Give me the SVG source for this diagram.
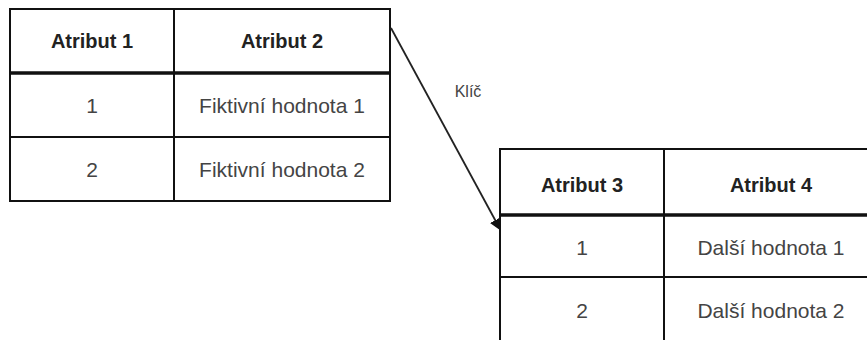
<svg xmlns="http://www.w3.org/2000/svg" width="867" height="340" viewBox="0 0 867 340">
<defs>
<style>
.b{fill:none;stroke:#111;stroke-width:2}
.hb{fill:none;stroke:#111;stroke-width:3.5}
.h{font-family:"Liberation Sans",Arial,sans-serif;font-size:20px;font-weight:bold;fill:#222;text-anchor:middle}
.t{font-family:"Liberation Sans",Arial,sans-serif;font-size:21px;fill:#444;text-anchor:middle}
.k{font-family:"Liberation Sans",Arial,sans-serif;font-size:16px;fill:#444;text-anchor:middle}
</style>
<marker id="ah" markerWidth="12" markerHeight="12" refX="10" refY="6" orient="auto" markerUnits="userSpaceOnUse">
<path d="M0,0 L12,6 L0,12 Z" fill="#111"/>
</marker>
</defs>
<rect width="867" height="340" fill="#fff"/>
<g id="table1">
<rect class="b" x="10" y="9" width="380" height="192"/>
<line class="hb" x1="10" y1="73" x2="390" y2="73"/>
<line class="b" x1="10" y1="137" x2="390" y2="137"/>
<line class="b" x1="174" y1="9" x2="174" y2="201"/>
<text class="h" x="92" y="48">Atribut 1</text>
<text class="h" x="282" y="48">Atribut 2</text>
<text class="t" x="92" y="113">1</text>
<text class="t" x="282" y="113">Fiktivní hodnota 1</text>
<text class="t" x="92" y="177">2</text>
<text class="t" x="282" y="177">Fiktivní hodnota 2</text>
</g>
<g id="table2">
<rect class="b" x="500" y="149" width="378" height="200"/>
<line class="hb" x1="500" y1="215" x2="878" y2="215"/>
<line class="b" x1="500" y1="277" x2="878" y2="277"/>
<line class="b" x1="664" y1="149" x2="664" y2="349"/>
<text class="h" x="582" y="192">Atribut 3</text>
<text class="h" x="771" y="192">Atribut 4</text>
<text class="t" x="582" y="255">1</text>
<text class="t" x="771" y="255">Další hodnota 1</text>
<text class="t" x="582" y="318">2</text>
<text class="t" x="771" y="318">Další hodnota 2</text>
</g>
<g id="connectors">
<line x1="391" y1="28" x2="500" y2="229" stroke="#222" stroke-width="1.8" marker-end="url(#ah)"/>
<text class="k" x="468" y="97">Klíč</text>
</g>
</svg>
